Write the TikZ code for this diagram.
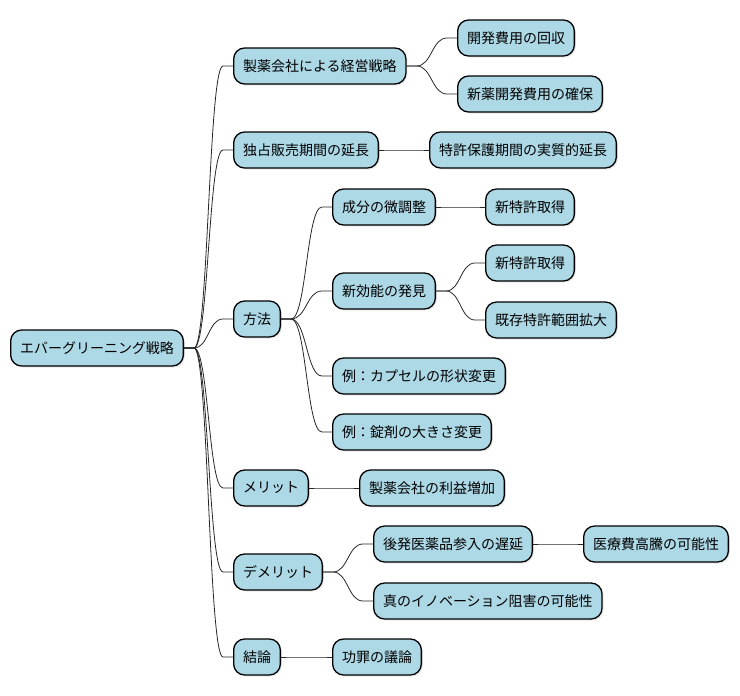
\documentclass[tikz,border=0pt]{standalone}
\usepackage{fontspec}
\setmainfont{Noto Sans CJK JP}
\usetikzlibrary{calc,shadows}
\definecolor{boxfill}{HTML}{ADD8E6}
\tikzset{
  mmbox/.style={draw=black, line width=1.3pt, fill=boxfill, rounded corners=11pt,
    minimum height=36pt, inner xsep=9.35pt, inner ysep=0pt, anchor=west,
    font=\fontsize{14pt}{16pt}\selectfont,
    drop shadow={opacity=0.18, shadow xshift=1.5pt, shadow yshift=-1.5pt}},
  mmedge/.style={draw=black!85, line width=0.8pt}
}
\newcommand\mmconn[2]{%
  \path ($(#1.east)!0.5!(#2.west)$) coordinate (mmM);
  \draw[mmedge] (#1.east) -- ([xshift=10pt]#1.east) .. controls (mmM |- #1.east) and (mmM |- #2.west) .. ([xshift=-10pt]#2.west) -- (#2.west);
}
\begin{document}
\begin{tikzpicture}[x=1pt,y=-1pt]
\useasboundingbox (0,0) rectangle (740,696);
\node[mmbox] (R) at (10,348) {エバーグリーニング戦略};
\node[mmbox] (A) at (233,66) {製薬会社による経営戦略};
\node[mmbox] (A1) at (457,38) {開発費用の回収};
\node[mmbox] (A2) at (457,94) {新薬開発費用の確保};
\node[mmbox] (B) at (233,150) {独占販売期間の延長};
\node[mmbox] (B1) at (429,150) {特許保護期間の実質的延長};
\node[mmbox] (C) at (233,319) {方法};
\node[mmbox] (C1) at (332,207) {成分の微調整};
\node[mmbox] (C1a) at (485,207) {新特許取得};
\node[mmbox] (C2) at (332,291) {新効能の発見};
\node[mmbox] (C2a) at (485,263) {新特許取得};
\node[mmbox] (C2b) at (485,320) {既存特許範囲拡大};
\node[mmbox] (C3) at (332,376) {例：カプセルの形状変更};
\node[mmbox] (C4) at (332,432) {例：錠剤の大きさ変更};
\node[mmbox] (D) at (233,488) {メリット};
\node[mmbox] (D1) at (359,488) {製薬会社の利益増加};
\node[mmbox] (E) at (233,572) {デメリット};
\node[mmbox] (E1) at (373,544) {後発医薬品参入の遅延};
\node[mmbox] (E1a) at (583,544) {医療費高騰の可能性};
\node[mmbox] (E2) at (373,601) {真のイノベーション阻害の可能性};
\node[mmbox] (F) at (233,657) {結論};
\node[mmbox] (F1) at (332,657) {功罪の議論};
\mmconn{R}{A}
\mmconn{A}{A1}
\mmconn{A}{A2}
\mmconn{R}{B}
\mmconn{B}{B1}
\mmconn{R}{C}
\mmconn{C}{C1}
\mmconn{C1}{C1a}
\mmconn{C}{C2}
\mmconn{C2}{C2a}
\mmconn{C2}{C2b}
\mmconn{C}{C3}
\mmconn{C}{C4}
\mmconn{R}{D}
\mmconn{D}{D1}
\mmconn{R}{E}
\mmconn{E}{E1}
\mmconn{E1}{E1a}
\mmconn{E}{E2}
\mmconn{R}{F}
\mmconn{F}{F1}
\end{tikzpicture}
\end{document}
